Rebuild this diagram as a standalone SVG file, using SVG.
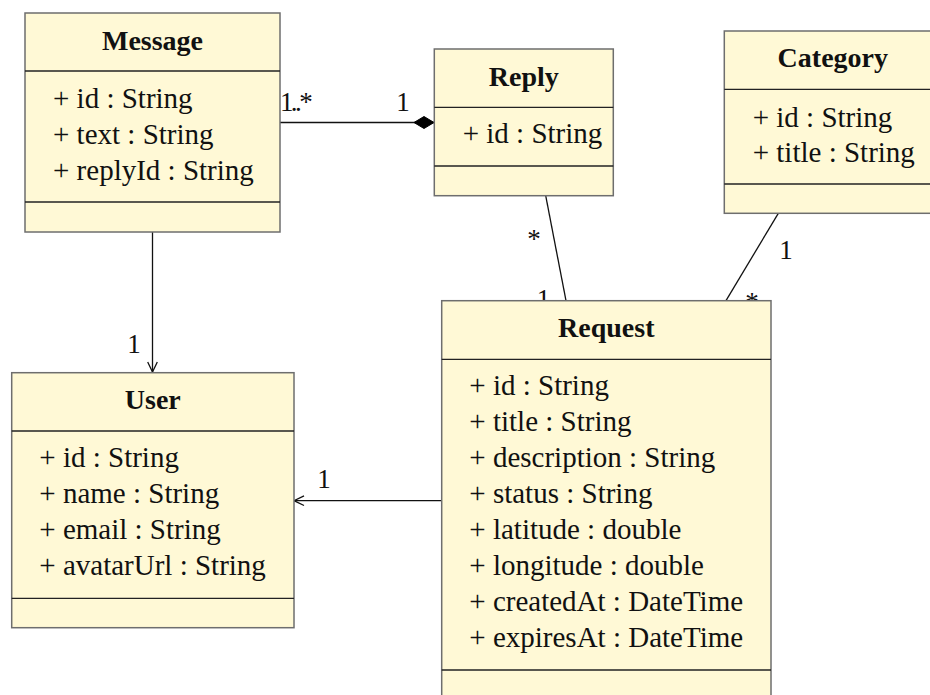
<svg xmlns="http://www.w3.org/2000/svg" width="930" height="695" viewBox="0 0 930 695">
  <style>
    .box { fill: #FFF9D6; stroke: #6e6e6e; stroke-width: 1.5; }
    .sep { stroke: #222; stroke-width: 1.3; }
    .title { font-family: "Liberation Serif", "DejaVu Serif", serif; font-size: 28px; font-weight: bold; fill: #111; text-anchor: middle; }
    .attr { font-family: "Liberation Serif", "DejaVu Serif", serif; font-size: 29px; fill: #111; }
    .mult { font-family: "Liberation Serif", "DejaVu Serif", serif; font-size: 27px; fill: #111; text-anchor: middle; }
    .edge { stroke: #111; stroke-width: 1.3; fill: none; }
  </style>
  <defs>
    <marker id="open-arrow" markerUnits="userSpaceOnUse" markerWidth="14" markerHeight="12" refX="12" refY="6" orient="auto" viewBox="0 0 14 12">
      <path d="M2 1.2 L12 6 L2 10.8" fill="none" stroke="#111" stroke-width="1.3"/>
    </marker>
    <marker id="diamond" markerUnits="userSpaceOnUse" markerWidth="22" markerHeight="14" refX="21" refY="7" orient="auto" viewBox="0 0 22 14">
      <path d="M21 7 L11 1 L1 7 L11 13 Z" fill="#000" stroke="#000" stroke-width="1"/>
    </marker>
  </defs>

  <rect width="930" height="695" fill="#fff"/>

  <g id="connectors">
    <!-- Message 1..* composed into Reply -->
    <line class="edge" x1="280" y1="122.5" x2="434" y2="122.5" marker-end="url(#diamond)"/>
    <text class="mult" x="295" y="111" text-anchor="start" letter-spacing="-2.6">1..*</text>
    <text class="mult" x="403" y="111">1</text>

    <!-- Message -> User -->
    <line class="edge" x1="152.5" y1="232" x2="152.5" y2="372" marker-end="url(#open-arrow)"/>
    <text class="mult" x="134" y="353">1</text>

    <!-- Reply - Request -->
    <line class="edge" x1="545.7" y1="195.7" x2="566" y2="300.7"/>
    <text class="mult" x="534" y="248">*</text>
    <text class="mult" x="543.5" y="308">1</text>

    <!-- Category - Request -->
    <line class="edge" x1="778.3" y1="213.3" x2="726" y2="300.7"/>
    <text class="mult" x="786" y="259">1</text>
    <text class="mult" x="752" y="311">*</text>

    <!-- Request -> User -->
    <line class="edge" x1="441.7" y1="500.7" x2="294" y2="500.7" marker-end="url(#open-arrow)"/>
    <text class="mult" x="324" y="488">1</text>
  </g>

  <g id="message">
    <rect class="box" x="25" y="13" width="255" height="219"/>
    <line class="sep" x1="25" y1="71" x2="280" y2="71"/>
    <line class="sep" x1="25" y1="202" x2="280" y2="202"/>
    <text class="title" x="152.5" y="50">Message</text>
    <text class="attr" x="53" y="108">+ id : String</text>
    <text class="attr" x="53" y="144">+ text : String</text>
    <text class="attr" x="53" y="180">+ replyId : String</text>
  </g>

  <g id="reply">
    <rect class="box" x="434.3" y="49" width="179" height="146.7"/>
    <line class="sep" x1="434.3" y1="107.3" x2="613.3" y2="107.3"/>
    <line class="sep" x1="434.3" y1="166" x2="613.3" y2="166"/>
    <text class="title" x="523.8" y="86">Reply</text>
    <text class="attr" x="462.7" y="143">+ id : String</text>
  </g>

  <g id="category">
    <rect class="box" x="724.3" y="31" width="217" height="182.3"/>
    <line class="sep" x1="724.3" y1="89.3" x2="941.3" y2="89.3"/>
    <line class="sep" x1="724.3" y1="184" x2="941.3" y2="184"/>
    <text class="title" x="832.8" y="66.7">Category</text>
    <text class="attr" x="752.7" y="126.7">+ id : String</text>
    <text class="attr" x="752.7" y="162.3">+ title : String</text>
  </g>

  <g id="user">
    <rect class="box" x="11.7" y="372.7" width="282.3" height="255"/>
    <line class="sep" x1="11.7" y1="431" x2="294" y2="431"/>
    <line class="sep" x1="11.7" y1="598.3" x2="294" y2="598.3"/>
    <text class="title" x="152.8" y="409.3">User</text>
    <text class="attr" x="39.3" y="467">+ id : String</text>
    <text class="attr" x="39.3" y="503">+ name : String</text>
    <text class="attr" x="39.3" y="539">+ email : String</text>
    <text class="attr" x="39.3" y="575">+ avatarUrl : String</text>
  </g>

  <g id="request">
    <rect class="box" x="441.7" y="300.7" width="329.3" height="410"/>
    <line class="sep" x1="441.7" y1="359.3" x2="771" y2="359.3"/>
    <line class="sep" x1="441.7" y1="670" x2="771" y2="670"/>
    <text class="title" x="606.3" y="336.7">Request</text>
    <text class="attr" x="469.3" y="395">+ id : String</text>
    <text class="attr" x="469.3" y="431">+ title : String</text>
    <text class="attr" x="469.3" y="467">+ description : String</text>
    <text class="attr" x="469.3" y="503">+ status : String</text>
    <text class="attr" x="469.3" y="539">+ latitude : double</text>
    <text class="attr" x="469.3" y="575">+ longitude : double</text>
    <text class="attr" x="469.3" y="611">+ createdAt : DateTime</text>
    <text class="attr" x="469.3" y="647">+ expiresAt : DateTime</text>
  </g>
</svg>
